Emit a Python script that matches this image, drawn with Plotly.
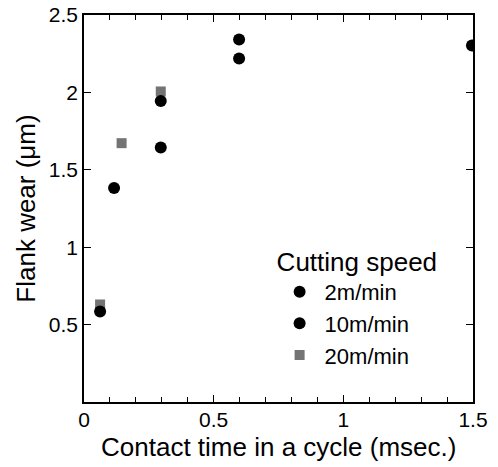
import plotly.graph_objects as go

series_names = ["2m/min", "10m/min", "20m/min"]
x_2 = [0.062, 0.296, 0.598, 1.496]
y_2 = [0.585, 1.644, 2.219, 2.303]
x_10 = [0.116, 0.296, 0.598]
y_10 = [1.382, 1.944, 2.342]
x_20 = [0.062, 0.145, 0.296]
y_20 = [0.63, 1.672, 2.006]

x_ticks = [0, 0.5, 1, 1.5]
y_ticks = [0.5, 1, 1.5, 2, 2.5]
x_title = "Contact time in a cycle (msec.)"
y_title = "Flank wear (\u03bcm)"

font_family = "Liberation Sans, Arial, sans-serif"

fig = go.Figure()
fig.add_trace(go.Scatter(x=x_20, y=y_20, mode="markers", name=series_names[2], legendrank=3,
                         marker=dict(symbol="square", size=10, color="#747474")))
fig.add_trace(go.Scatter(x=x_2, y=y_2, mode="markers", name=series_names[0], legendrank=1,
                         marker=dict(symbol="circle", size=12, color="black")))
fig.add_trace(go.Scatter(x=x_10, y=y_10, mode="markers", name=series_names[1], legendrank=2,
                         marker=dict(symbol="circle", size=12, color="black")))

axis_common = dict(showline=True, linecolor="black", linewidth=1.5, mirror="allticks",
                   ticks="inside", tickcolor="black", showgrid=False, zeroline=False,
                   automargin=False,
                   tickfont=dict(size=21, color="black", family=font_family))

fig.update_xaxes(range=[0, 1.5], tickvals=x_ticks, ticktext=["0", "0.5", "1", "1.5"],
                 ticklen=7, tickwidth=1, ticklabelstandoff=-2,
                 minor=dict(dtick=0.1, ticks="inside", ticklen=5, tickcolor="black", showgrid=False),
                 **axis_common)
fig.update_yaxes(range=[0, 2.5], tickvals=y_ticks, ticktext=["0.5", "1", "1.5", "2", "2.5"],
                 ticklen=7, tickwidth=1,
                 title=dict(text=y_title,
                            font=dict(size=26, color="black", family=font_family), standoff=6),
                 **axis_common)

fig.add_annotation(text=x_title, xref="paper", yref="paper", x=0.5, y=-0.115,
                   xanchor="center", yanchor="middle", showarrow=False,
                   font=dict(size=26, color="black", family=font_family))

fig.update_layout(
    width=498, height=467,
    margin=dict(l=84, r=25, t=15, b=65),
    plot_bgcolor="white", paper_bgcolor="white",
    font=dict(family=font_family, color="black"),
    legend=dict(x=0.49, y=0.426, xanchor="left", yanchor="top",
                bgcolor="rgba(0,0,0,0)", borderwidth=0,
                title=dict(text="Cutting speed", font=dict(size=26, family=font_family)),
                font=dict(size=22, family=font_family),
                itemsizing="trace", itemwidth=40, tracegroupgap=0),
)

fig.write_html("out.html", config={"displayModeBar": False},
               post_script="document.body.style.margin='0';")
